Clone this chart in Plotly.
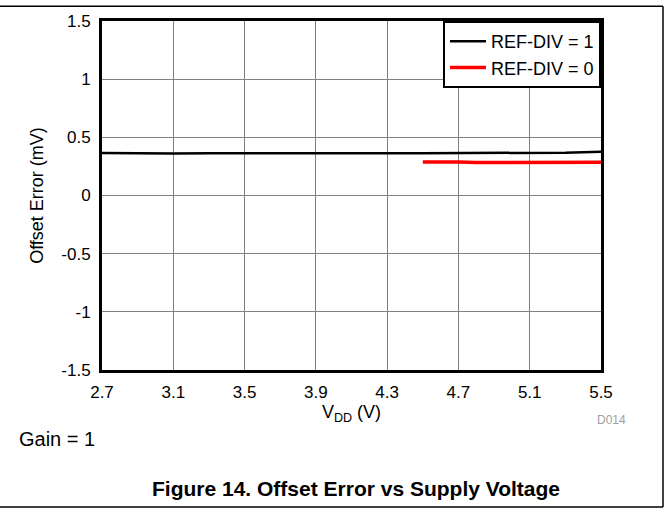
import plotly.graph_objects as go

vdd_1 = [2.7, 2.9, 3.1, 3.3, 3.5, 3.7, 3.9, 4.1, 4.3, 4.5, 4.7, 4.9, 5.1, 5.3, 5.5]
err_1 = [0.365, 0.362, 0.362, 0.363, 0.362, 0.362, 0.364, 0.362, 0.363, 0.364, 0.366, 0.365, 0.364, 0.368, 0.376]
vdd_0 = [4.5, 4.6, 4.7, 4.8, 4.9, 5.0, 5.1, 5.2, 5.3, 5.4, 5.5]
err_0 = [0.289, 0.291, 0.287, 0.283, 0.284, 0.287, 0.284, 0.285, 0.287, 0.285, 0.286]

x_ticks = [2.7, 3.1, 3.5, 3.9, 4.3, 4.7, 5.1, 5.5]
y_ticks = [-1.5, -1, -0.5, 0, 0.5, 1, 1.5]

font = "Liberation Sans, Arial, sans-serif"

fig = go.Figure()
fig.add_trace(go.Scatter(x=vdd_1, y=err_1, mode="lines", name="REF-DIV = 1",
                         line=dict(color="black", width=2.5)))
fig.add_trace(go.Scatter(x=vdd_0, y=err_0, mode="lines", name="REF-DIV = 0",
                         line=dict(color="#ff0000", width=3.5)))

fig.update_layout(
    width=669, height=512,
    margin=dict(l=102, r=68, t=16, b=142),
    paper_bgcolor="white", plot_bgcolor="white",
    font=dict(family=font, size=17, color="black"),
    showlegend=True,
    legend=dict(x=1, y=1, xanchor="right", yanchor="top",
                bgcolor="white", bordercolor="black", borderwidth=2,
                font=dict(size=18), tracegroupgap=0,
                itemwidth=36),
    xaxis=dict(range=[2.7, 5.5], tickvals=x_ticks, ticktext=[str(v) for v in x_ticks],
               showgrid=True, gridcolor="#808080", gridwidth=1,
               showline=True, linecolor="black", linewidth=3, mirror=True,
               ticks="", zeroline=False, ticklabelstandoff=5,
               tickfont=dict(size=17),
               title=dict(text="V<sub>DD</sub> (V)", standoff=2, font=dict(size=18))),
    yaxis=dict(range=[-1.5, 1.5], tickvals=y_ticks,
               ticktext=["-1.5", "-1", "-0.5", "0", "0.5", "1", "1.5"],
               showgrid=True, gridcolor="#808080", gridwidth=1,
               showline=True, linecolor="black", linewidth=3, mirror=True,
               ticks="", zeroline=False, ticklabelstandoff=5,
               tickfont=dict(size=17),
               title=dict(text="Offset Error (mV)", standoff=14, font=dict(size=18))),
)

fig.add_annotation(text="D014", xref="paper", yref="paper",
                   x=(628 - 102) / 499, y=(370 - 421) / 354, xanchor="right", yanchor="middle",
                   showarrow=False, font=dict(size=12, color="#a0a0a0"))
fig.add_annotation(text="Gain = 1", xref="paper", yref="paper",
                   x=(17 - 102) / 499, y=(370 - 440) / 354, xanchor="left", yanchor="middle",
                   showarrow=False, font=dict(size=20))
fig.add_annotation(text="<b>Figure 14. Offset Error vs Supply Voltage</b>", xref="paper", yref="paper",
                   x=(356 - 102) / 499, y=(370 - 490) / 354, xanchor="center", yanchor="middle",
                   showarrow=False, font=dict(size=21))

# outer frame (top, right, bottom)
fx0 = -102 / 499
fx1 = (663 - 102) / 499
fy1 = (370 - 1) / 354
fy0 = (370 - 509) / 354
for (a, b, c, d) in [(fx0, fy1, fx1, fy1), (fx1, fy1, fx1, fy0), (fx0, fy0, fx1, fy0)]:
    fig.add_shape(type="line", xref="paper", yref="paper", x0=a, y0=b, x1=c, y1=d,
                  line=dict(color="black", width=1.5))

fig.write_html("out.html", config={"displayModeBar": False},
               post_script="document.body.style.margin='0';document.body.style.padding='0';")
